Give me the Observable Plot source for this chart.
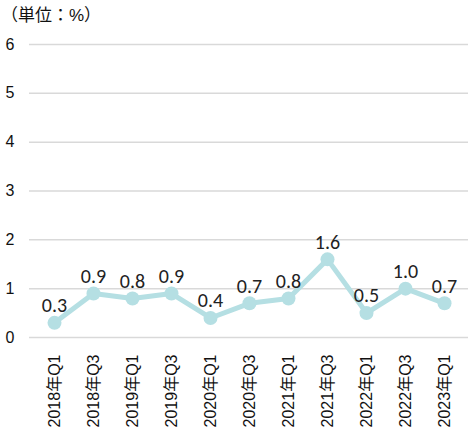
<!DOCTYPE html>
<html><head><meta charset="utf-8">
<script src="https://cdn.jsdelivr.net/npm/d3@7"></script>
<script src="https://cdn.jsdelivr.net/npm/@observablehq/plot@0.6"></script>
<style>
body{margin:0;background:#fff;font-family:"Liberation Sans","Noto Sans CJK JP",sans-serif;}
#title{height:30px;line-height:32px;padding-left:1px;color:#111;}
</style></head>
<body>
<div id="title" style="font-size:17px;font-family:'Liberation Sans','Noto Sans CJK JP',sans-serif;">（単位：%）</div>
<div id="chart"></div>
<script>
const quarters = ["2018年Q1","2018年Q3","2019年Q1","2019年Q3","2020年Q1","2020年Q3","2021年Q1","2021年Q3","2022年Q1","2022年Q3","2023年Q1"];
const values = [0.3,0.9,0.8,0.9,0.4,0.7,0.8,1.6,0.5,1.0,0.7];
const yTicks = [0,1,2,3,4,5,6];
const data = quarters.map((q,i)=>({q, v: values[i]}));
const color = "#b5dfe3";
const chart = Plot.plot({
  width: 475, height: 398,
  marginTop: 14, marginBottom: 91, marginLeft: 29, marginRight: 7,
  style: {fontFamily: '"Liberation Sans","Noto Sans CJK JP",sans-serif', fontSize: "15px", color: "#111"},
  x: {type: "point", domain: quarters, padding: 0.5, label: null},
  y: {domain: [0,6], label: null},
  marks: [
    Plot.gridY(yTicks, {stroke: "#d9d9d9", strokeOpacity: 1, strokeWidth: 1.5}),
    Plot.axisY(yTicks, {tickSize: 0, tickPadding: 15, label: null, textAnchor: "end", fontSize: 16}),
    Plot.axisX({tickSize: 0, tickRotate: -90, tickPadding: 17, label: null}),
    Plot.line(data, {x: "q", y: "v", stroke: color, strokeWidth: 5}),
    Plot.dot(data, {x: "q", y: "v", fill: color, r: 7}),
    Plot.text(data, {x: "q", y: "v", text: d => d.v.toFixed(1), dy: -17, fontSize: 20, fill: "#222", fontFamily: "Carlito, Lato, sans-serif"})
  ]
});
d3.select(chart).selectAll('g[aria-label^="y-axis"] text').style("font-size", "16px");
d3.select(chart).selectAll('g[aria-label^="x-axis"] text').style("font-size", "16px");
document.getElementById("chart").append(chart);
</script>
</body></html>
